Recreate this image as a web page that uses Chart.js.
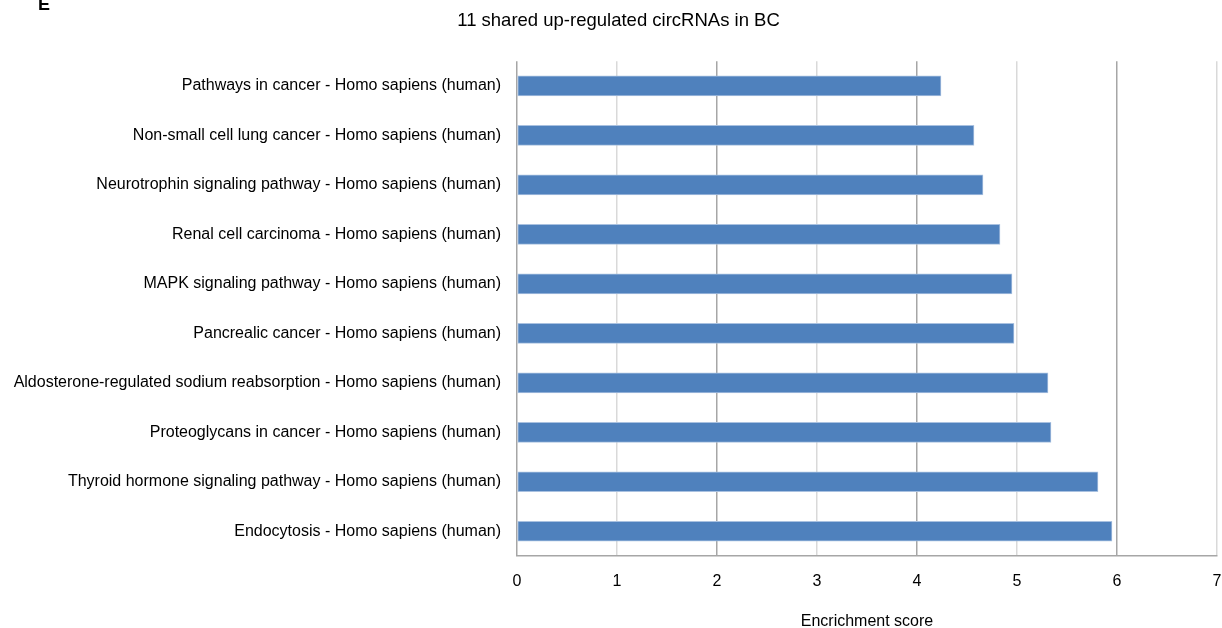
<!DOCTYPE html>
<html>
<head>
<meta charset="utf-8">
<script src="https://cdn.jsdelivr.net/npm/chart.js@4.4.1/dist/chart.umd.min.js"></script>
<style>
  html, body { margin: 0; padding: 0; background: #fff; }
  #wrap { position: relative; width: 1222px; height: 628px; }
  #panel { position: absolute; left: 38px; top: -6px; font: bold 18px "Liberation Sans", Arial, sans-serif; color: #000; }
</style>
</head>
<body>
<div id="wrap">
  <canvas id="barChart" width="1222" height="628"></canvas>
  <div id="panel">E</div>
</div>
<script>
// ── data ──
const pathways = [
  'Pathways in cancer - Homo sapiens (human)',
  'Non-small cell lung cancer - Homo sapiens (human)',
  'Neurotrophin signaling pathway - Homo sapiens (human)',
  'Renal cell carcinoma - Homo sapiens (human)',
  'MAPK signaling pathway - Homo sapiens (human)',
  'Pancrealic cancer - Homo sapiens (human)',
  'Aldosterone-regulated sodium reabsorption - Homo sapiens (human)',
  'Proteoglycans in cancer - Homo sapiens (human)',
  'Thyroid hormone signaling pathway - Homo sapiens (human)',
  'Endocytosis - Homo sapiens (human)',
];
const scores = [4.24, 4.57, 4.66, 4.83, 4.95, 4.97, 5.31, 5.34, 5.81, 5.95];
const xTicks = [0, 1, 2, 3, 4, 5, 6, 7];

const FONT = '"Liberation Sans", Arial, sans-serif';

// nudge the title a few px right, the original sits slightly off canvas centre
const titleNudge = {
  id: 'titleNudge',
  afterLayout(chart) {
    const t = chart.titleBlock;
    if (t) { t.left += 10; t.right += 10; }
  },
};

window.addEventListener('DOMContentLoaded', () => {
  const ctx = document.getElementById('barChart').getContext('2d');
  new Chart(ctx, {
    type: 'bar',
    data: {
      labels: pathways,
      datasets: [{
        label: 'Enrichment score',
        data: scores,
        backgroundColor: '#4f81bd',
        borderColor: '#a9c1e0',
        borderWidth: 1,
        borderSkipped: false,
        barThickness: 20,
      }],
    },
    options: {
      indexAxis: 'y',
      responsive: false,
      animation: false,
      layout: { padding: { left: 0, right: 5, top: 0, bottom: 0 } },
      plugins: {
        legend: { display: false },
        tooltip: { enabled: false },
        title: {
          display: true,
          text: '11 shared up-regulated circRNAs in BC',
          color: '#000',
          font: { family: FONT, size: 18.5, weight: 'normal' },
          padding: { top: 10, bottom: 29 },
        },
      },
      scales: {
        x: {
          min: 0,
          max: 7,
          afterBuildTicks: axis => { axis.ticks = xTicks.map(v => ({ value: v })); },
          afterFit: axis => {
            axis.height = 72;
            axis.paddingRight = 0;
            axis.paddingLeft = 0;
          },
          ticks: { color: '#000', font: { family: FONT, size: 16 }, padding: 16 },
          grid: {
            drawTicks: false,
            lineWidth: 1.5,
            color: c => (c.tick && c.tick.value % 2 === 0 ? '#a6a6a6' : '#d9d9d9'),
          },
          border: { display: true, color: '#a6a6a6', width: 1.5 },
          title: {
            display: true,
            text: 'Encrichment score',
            color: '#000',
            font: { family: FONT, size: 16 },
            padding: { top: 0, bottom: -3 },
          },
        },
        y: {
          afterFit: axis => { axis.width = 517; },
          ticks: { color: '#000', font: { family: FONT, size: 16 }, padding: 16 },
          grid: { display: false, drawTicks: false },
          border: { display: false },
        },
      },
    },
    plugins: [titleNudge],
  });
});
</script>
</body>
</html>
